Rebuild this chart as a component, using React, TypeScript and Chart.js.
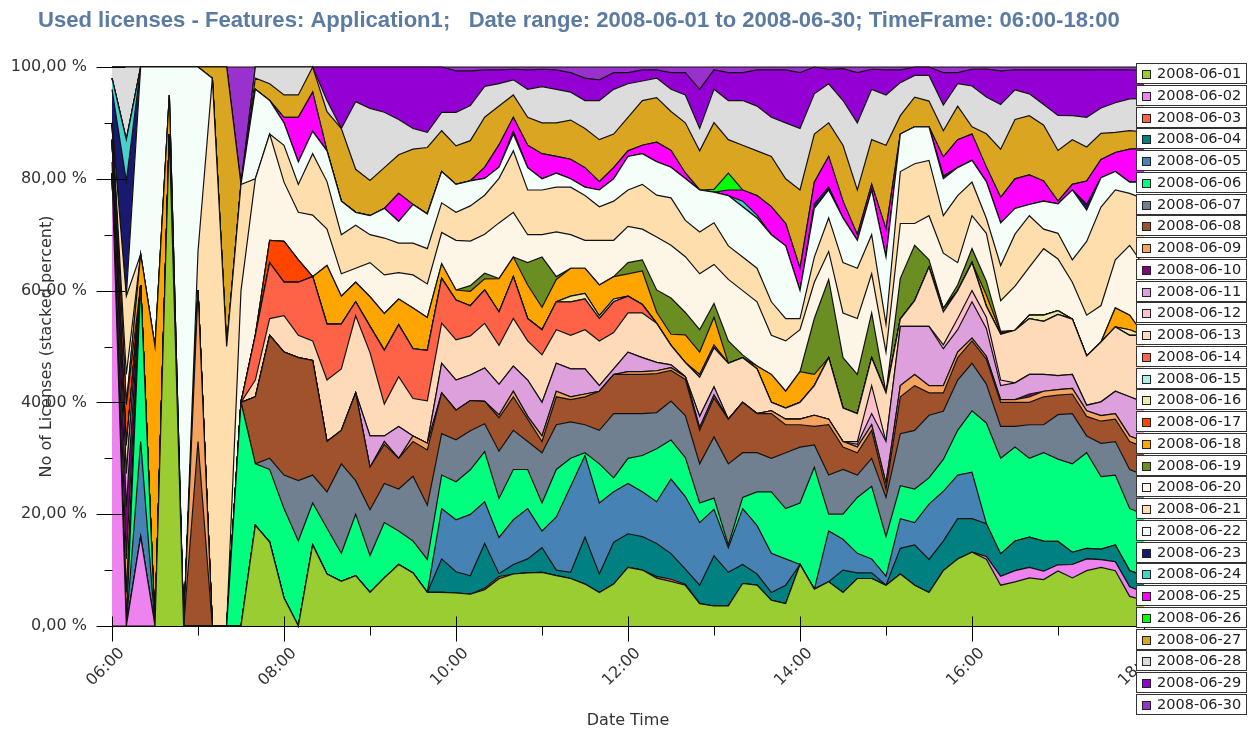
import React, { useEffect, useRef } from 'react';
import { Chart, registerables } from 'chart.js';

Chart.register(...registerables);

const TITLE = 'Used licenses - Features: Application1;   Date range: 2008-06-01 to 2008-06-30; TimeFrame: 06:00-18:00';
const X_TITLE = 'Date Time';
const Y_TITLE = 'No of Licenses (stacked percent)';

const TIMES = [
  '06:00', '06:10', '06:20', '06:30', '06:40', '06:50', '07:00', '07:10', '07:20', '07:30', '07:40', '07:50',
  '08:00', '08:10', '08:20', '08:30', '08:40', '08:50', '09:00', '09:10', '09:20', '09:30', '09:40', '09:50',
  '10:00', '10:10', '10:20', '10:30', '10:40', '10:50', '11:00', '11:10', '11:20', '11:30', '11:40', '11:50',
  '12:00', '12:10', '12:20', '12:30', '12:40', '12:50', '13:00', '13:10', '13:20', '13:30', '13:40', '13:50',
  '14:00', '14:10', '14:20', '14:30', '14:40', '14:50', '15:00', '15:10', '15:20', '15:30', '15:40', '15:50',
  '16:00', '16:10', '16:20', '16:30', '16:40', '16:50', '17:00', '17:10', '17:20', '17:30', '17:40', '17:50',
  '18:00',
];

const SERIES_NAMES = [
  '2008-06-01', '2008-06-02', '2008-06-03', '2008-06-04', '2008-06-05', '2008-06-06',
  '2008-06-07', '2008-06-08', '2008-06-09', '2008-06-10', '2008-06-11', '2008-06-12',
  '2008-06-13', '2008-06-14', '2008-06-15', '2008-06-16', '2008-06-17', '2008-06-18',
  '2008-06-19', '2008-06-20', '2008-06-21', '2008-06-22', '2008-06-23', '2008-06-24',
  '2008-06-25', '2008-06-26', '2008-06-27', '2008-06-28', '2008-06-29', '2008-06-30',
];

const COLORS = [
  '#9ACD32', '#EE82EE', '#FF6347', '#008080', '#4682B4', '#00FF7F',
  '#708090', '#A0522D', '#F4A460', '#800080', '#DDA0DD', '#FFC0CB',
  '#FFDAB9', '#FF6347', '#AFEEEE', '#EEE8AA', '#FF4500', '#FFA500',
  '#6B8E23', '#FDF5E6', '#FFDEAD', '#F5FFFA', '#191970', '#48D1CC',
  '#FF00FF', '#00FF00', '#DAA520', '#DCDCDC', '#9400D3', '#9932CC',
];

// licenses in use per 10-minute slot (06:00 .. 18:00), one array per day
const S01 = [0,0,0,0,88,0,0,0,0,0,18,15, 5,0,14.5,9.3,8,9,6,8.6,11,9.5,6,6, 5.9,5.7,6.5,8.5,9.3,9.5,9.6,9,8.5,7.5,6,7.5, 10.5,10,8.6,8,7.3,4,3.6,3.6,7.6,7.3,4.6,4, 11,6.6,7.9,6,8.5,8.5,7.3,9.3,7.3,6,9.9,12, 13.2,12,7.3,7.9,8.6,8.3,9.9,8.6,9.9,10.6,9.9,5.3, 4.6];
const S02 = [81,0,16,0,0,0,0,0,0,0,0,0, 0,0,0,0,0,0,0,0,0,0,0,0, 0,0,0,0,0,0,0,0,0,0,0,0, 0,0,0,0,0,0,0,0,0,0,0,0, 0,0,0,0,0,0,0,0,0,0,0,0, 0,0.5,1.6,2,1.9,1.5,1.1,2.4,2.1,1.4,1.6,1.7, 1.4];
const S03 = [0,0,0,0,0,0,0,0,0,0,0,0, 0,0,0,0,0,0,0,0,0,0,0,0, 0,0,0.3,0.4,0,0,0,0,0,0,0,0, 0,0,0.3,0.4,0.2,0,0,0,0,0,0,0, 0,0,0,0,0,0,0,0,0,0,0,0, 0,0,0,0,0,0,0,0,0,0,0,0, 0];
const S04 = [0,0,0,0,0,0,0,0,0,0,0,0, 0,0,0,0,0,0,0,0,0,0,0,6, 3.8,3.3,8,0.5,1.7,2.5,4.4,1,1.1,8.4,3.3,7.5, 6,6,5.9,4.6,2.7,3.3,9,6,3.4,2,1.4,3.3, 0,0,0,4,1,1,0,4.6,7.2,5.9,5.3,7.2, 6,5.9,4,5.3,5.4,5.4,4.2,2.2,1.9,1.9,3,2.9, 3];
const S05 = [0,0,17,0,0,0,0,0,0,0,0,0, 0,0,0,0,0,0,0,0,0,0,0,9, 9.3,11,7.5,6.5,8,9,3,9.5,15.4,14.6,12.7,9, 9,8,7.5,13.4,13,11.2,8.4,4.4,10,8.7,7,4.7, 0,0,9.1,5.5,3.5,2.5,1.6,5.3,4,9.9,8.9,7.8, 8.3,0,0,0,0,0,0,0,0,0,0,0, 0];
const S06 = [0,0,28,0,0,0,0,0,0,40,11,13, 16,15.2,7.5,8.2,5,11,6.6,9.9,6,5.7,5.9,6, 6.8,8,9,7,9,7,5,8.5,5,0.5,7,2.5, 4.5,6.5,9.5,7,7,3.5,2,0.5,2,6,11,9, 11,21.8,3,4.5,10,13,7.1,5.9,6,4.7,5.7,8, 11,18.1,17.1,16.8,14.1,15.8,14.8,15.8,17.1,13.1,12.5,11.1, 11];
const S07 = [0,0,0,0,0,0,0,0,0,0,0,2, 6,10.8,5,6.5,16,6,8.2,7,7.5,11.6,9.7,7.4, 7.5,7,5,8.5,7,5,9,8,6.5,5,6,11.5, 8,7.5,6.5,7,7.5,7,11,14.5,8,7,6,10, 10,4,7,8,4,5,7,9.3,10.5,11.2,8.6,9, 8.5,7,5.7,3.7,6,5,8,9,3,6,6,7, 7];
const S08 = [0,6,0,0,0,0,33,0,0,0,12,22, 22,22,20.5,9,6,15.7,7.6,7,5.5,6.2,9.9,7.3, 5.3,5.4,4,6,6,4,2,5,4,5,7,7, 7,7,7,5.5,6.5,6,7,8,9,7,8,5, 4,3.3,9,4,4,5,1.5,6.6,8,4,3.3,4, 4,4.5,4.3,4.3,4,5,3.5,3.5,3.5,4,4,5, 5];
const S09 = [2,6,0,0,0,0,27,0,0,0,0,0, 0,0,0,0,0,0,0,0.5,0,1,1.2,0, 0,0,0,0.5,1,0.5,1,1,0.5,0.5,0,0, 0.5,0.5,0.5,0.5,0.5,0.5,0.5,0,0,0,0.5,1, 1,2,1,1,1,1,1,2,2,1.3,1.3,1, 0.5,0.5,0.5,0.5,1,1,1,1,1,1,1,1, 1];
const S10 = [4,9.3,0,0,0,0,0,0,0,0,0,0, 0,0,0,0,0,0,0,0,0,0,0,0, 0,0,0,0,0,0,0,0,0,0,0,0, 0,0,0,0,0,0,0,0,0,0,0,0, 0,0,0,0,0,0,0,0,0,0,0,0, 0,0,0,0,0.5,0,0,0,0,0,0,0, 0];
const S11 = [0,6,0,0,0,0,0,0,0,0,0,0, 0,0,0,0,0,0,5.6,1,5.7,0,0,5.3, 5.4,4.6,6,5.5,4.5,6.5,6,5,5,4.5,1,1, 3.5,2.5,1.5,0.5,0,2,1.5,0,0,0,0,0, 0,0,0,0,0.5,2,7.5,10.6,8.6,10.6,6.6,4, 6.5,5,2.5,3,3.5,3,2.5,2.5,1,2.5,4,7, 7];
const S12 = [0,0,0,0,0,0,0,0,0,0,0,0, 0,0,0,0,0,0,0,0,0,0,0,0, 0,0,0,0,0,0,0,0,0,0,0,0, 0,0,0,0,0,0,0,0,0,0,0,0, 0,0,0,0,0.5,5,0,0,0,0,0.7,2, 2,2,1,0,0,0,0,0,0,0,0,0, 0];
const S13 = [0,5,0,0,0,0,0,0,0,0,3,3, 6.5,4,3.5,11,11,13.8,14.9,5.7,8.9,6.7,7.6,7.2, 7.2,7,8,7,8.5,7,8.5,6,6,7,8,6.5, 7,8,7,3.5,2.5,7,7,10,8,8,1.5,2, 3,5.3,11,6,5,5,8.7,1.3,4.6,10.6,5.9,5, 5,2,8.2,9.4,10,9.5,11,9.9,8.8,10.8,11.5,11, 12];
const S14 = [0,0,0,0,0,0,0,0,0,0,8,10, 6,9.5,11.5,10,8,2.5,4.7,9.6,9.3,8.9,9,8, 7.1,5.4,6,6,7.5,4,4.5,5,6,5.5,4,5.5, 3,1.5,0,0,0,0,0,0,0,0,0,0, 0,0,0,0,0,0,0,0,0,0,0,0, 0,0,0,0,0,0,0,0,0,0,0,0, 0];
const S15 = [0,0,0,0,0,0,0,0,0,0,0,0, 0,0,0,0,0,0,0,0,0,0,0,0, 0,0,0,0,0,0,0,0,0,0,0,0, 0,0,0,0,0,0,0,0,0,0,0,0, 0,0,0,0,0,0,0,0,0,0,0,0, 0,0,0,0,0,0,0,0,0,0,0,0, 0];
const S16 = [0,0,0,0,0,0,0,0,0,0,0,0, 0,0,0,0,0,0,0,0,0,0,0,0, 0,0,0,0,0,0,0,0,1,1,0.5,0.5, 0,0,0,0,0,0.5,0.5,0,0,0,0,0, 0,0,0,0,0,0,0,0,0,0,0.6,0, 0,0,0,0,0.6,1.1,0.7,0,0,0,0,1, 0];
const S17 = [3,7.3,0,0,0,0,0,0,0,0,0,4, 7.3,4,0,0,0,0,0,0,0,0,0,0, 0,0,0,0,0,0,0,0,0,0,0,0, 0,0,0,0,0,0,0,0,0,0,0,0, 0,0,0,0,0,0,0,0,0,0,0,0, 0,0,0,0,0,0,0,0,0,0,0,0, 0];
const S18 = [0,0,5.5,50,7,0,0,0,0,0,0,0, 0,0,0,10.5,5,3.5,5.3,6.6,4.6,7.3,5.9,2.6, 1.8,2.6,2,6,3.5,6,4,4,5,4.5,5.5,4, 4,6,2,2,5,4,5,0,0,0.5,5,3, 5.5,2,0,0,0,0,0,0,0,0,0,0, 0,2,0.3,0,0,0,0,0,0,0,3.4,2.6, 0];
const S19 = [0,0,0,0,0,0,0,0,0,0,0,0, 0,0,0,0,0,0,0,0,0,0,0,0, 0,1,1,0,0,4,9,0.5,0,0,0,0, 2,2,4,6.5,4,4,2.5,4,0.5,0,0,0, 0,10,14,9,7,8,0,7.3,9.9,1.3,0,1, 2.5,2.5,0.2,0,0,0,0,0,0,0,0,0, 0];
const S20 = [0,5.4,0,0,0,0,0,0,0,20,28,19, 10.6,8.5,11,6.5,4,2.5,6.1,6.9,4.7,5.9,6,5.6, 8.9,8,7,10,8,5,4,8,6,5,8,6.5, 6.5,5.5,9.5,9.5,10,10,7,11,11.5,11.5,7,9, 7.5,6.5,5,8,10,7,7.3,9.8,3.9,7.9,9.9,4, 5.9,8.6,5.5,7.9,8.6,11.9,9.3,6.6,7.3,6.6,8.6,12.5, 12.4];
const S21 = [0,14,0,0,0,0,7,98,50,19,0,0, 6.6,5,11,8.5,7,7.7,5,6.6,5.3,5.7,6.3,5.3, 5,6.3,7,8,11,8,8,8,8.5,8,6,7, 6.5,8,7.5,8.5,6.5,7.5,7.5,6,6,6,6,4, 2,4.5,6,9,9,7,5,9.3,10.7,9.9,6.7,12, 6,2.7,6.3,9.3,9.2,3.5,4.6,4,13.2,17.8,12.5,9.3, 12];
const S22 = [0,0,33.5,50,5,100,33,0,0,0,16,6, 4,4,4,5.5,6,2.3,3.4,5.3,3.9,6.9,6.2,5.6, 5,4.5,3,2,3,4,2,2.5,1.5,1.5,3,4, 6,5.5,6,5.5,7.5,7.5,5.5,9,9,9,12,13, 5,8.7,5,8,5,8,12,6.7,6.6,6,6.6,5, 3.9,6.6,7.6,4.6,2,5,5.3,12.5,5.6,5.3,3.3,2, 3];
const S23 = [6,20.6,0,0,0,0,0,0,0,0,0,0, 0,0,0,0,0,0,0,0,0,0,0,0, 0,0,0,0,0.5,0,0,0,0,0,0,0, 0,0,0,0,0,0,0,0,0,0,0,0, 0,0.8,0.5,0,0,0,0,0,0,0,0.5,0, 0,0,0,0,0,0,0,0,1,0,0,0, 0];
const S24 = [2,7.4,0,0,0,0,0,0,0,0,0,0, 0,0,0,0,0,0,0,0,0,0,0,0, 0,0,0,0,0,0,0,0,0,0,0,0, 0,0,0,0,0,0,0,0,1,0.5,0,0, 0,0,0,0,0,0,0,0,0,0,0,0, 0,0,0,0,0,0,0,0,0,0,0,0, 0];
const S25 = [0,0,0,0,0,0,0,0,0,0,0,0, 1,8,7,0,0,0,0,0,5,0,0,0, 0,0,2,4,2.5,4,4.5,3,3.5,3.5,1.5,2, 1,1.5,3.5,3,1,0,0,1,2,3.5,5,4, 4,3.9,5.5,3,1,1,5,0,0,0,3.4,5, 4.7,2.6,4.6,5.3,5.3,3.6,0.5,1,4.2,3.3,3.4,5.9, 6];
const S26 = [0,0,0,0,0,0,0,0,0,0,0,0, 0,0,0,0,0,0,0,0,0,0,0,0, 0,0,0,0,0,0,0,0,0,0,0,0, 0,0,0,0,0,0,0.5,3,0,0,0,0, 0,0,0,0,0,0,0,0,0,0,0,0, 0,0,0,0,0,0,0,0,0,0,0,0, 0];
const S27 = [0,0,0,0,0,0,0,2,50,0,2,3, 4,4,4.5,7,13,7.7,6.3,7.3,6.9,9.9,11.9,7.3, 6.9,7.2,9,7,4,5,5.5,6,7,7,7.5,6, 6,8,8,7,9,7,12,6,8,8,9,8, 14,8.6,6,10,8,8,15,3.3,5.3,4.6,4.7,6, 1.3,6,8.6,10.6,10.6,10,9.1,8,6.1,4.7,3.6,3.3, 3];
const S28 = [2,13,0,0,0,0,0,0,0,0,2,3, 5,5,0,2,0,12.1,12.9,9.9,6.3,3.7,2.7,3.3, 6,6.3,5.5,4,2.7,5,6.5,6,5,5,7,8, 6,3.5,3.5,4,5,4,6,7,8,8,7,10, 11,7.2,7,8,12,9,9,5.9,3.9,4.6,4.6,4, 7.3,6.6,8,5.3,3.9,3.7,6.3,4.3,5.3,4.6,5.3,5.7, 6];
const S29 = [0,0,0,0,0,0,0,0,0,0,0,0, 0,0,0,6,11,6.2,7.4,8.1,9.4,11,11.7,8.1, 7.4,6.2,3,2.5,1.9,3.5,3.1,3.5,3.5,4,3.7,3, 2,2,1.5,3,4,7,3.5,5,5,6.5,8.5,9.5, 10,4.8,2.6,5.7,9,3.6,4.5,2.3,1.5,1.5,5.8,2, 3,5,6,3.6,4.3,6.2,8.2,8.2,8.5,6.9,5.9,5.2, 5];
const S30 = [0,0,0,0,0,0,0,0,0,21,0,0, 0,0,0,0,0,0,0,0,0,0,0,0, 0.7,0.7,0.5,0.5,0.4,0.5,0.4,0.5,1,2,2.3,1, 1,0.5,0.5,1,1,4,0.5,1,1,0.5,0.5,0.5, 1,0,0.4,0.3,1,0.4,0.5,0.5,0,0,1,1, 0.4,0.4,0.7,0.5,0.5,0.5,0.5,0.5,0.5,0.5,0.5,0.5, 0.6];

const SERIES = [
  S01, S02, S03, S04, S05, S06, S07, S08, S09, S10,
  S11, S12, S13, S14, S15, S16, S17, S18, S19, S20,
  S21, S22, S23, S24, S25, S26, S27, S28, S29, S30,
];

const Y_TICK_VALUES = [0, 10, 20, 30, 40, 50, 60, 70, 80, 90, 100];

const FONT = '"DejaVu Sans", "Liberation Sans", Arial, sans-serif';

function toPercent(series: number[][]): number[][] {
  const n = series[0].length;
  const totals: number[] = [];
  for (let i = 0; i < n; i++) {
    let t = 0;
    for (const s of series) t += s[i];
    totals.push(t);
  }
  return series.map((s) => s.map((v, i) => (totals[i] > 0 ? (v / totals[i]) * 100 : 0)));
}

const decorPlugin = {
  id: 'decor',
  afterDraw(chart: any) {
    const { ctx, chartArea, scales } = chart;
    const xs = scales.x;
    const ys = scales.y;
    ctx.save();
    // tick marks
    ctx.strokeStyle = '#000';
    ctx.lineWidth = 1;
    ctx.beginPath();
    const L = Math.round(chartArea.left) + 0.5;
    const B = Math.round(chartArea.bottom) + 0.5;
    for (const v of Y_TICK_VALUES) {
      const y = Math.round(ys.getPixelForValue(v)) + 0.5;
      if (v % 20 === 0) {
        ctx.moveTo(L - 16, y);
        ctx.lineTo(L + 13, y);
      } else {
        ctx.moveTo(L - 8, y);
        ctx.lineTo(L, y);
      }
    }
    for (let i = 0; i < TIMES.length; i += 6) {
      const x = Math.round(xs.getPixelForValue(i)) + 0.5;
      if (i % 12 === 0) {
        ctx.moveTo(x, B - 10);
        ctx.lineTo(x, B + 15);
      } else {
        ctx.moveTo(x, B);
        ctx.lineTo(x, B + 9);
      }
    }
    ctx.stroke();

    // title
    ctx.font = `bold 20px "Liberation Sans", Arial, sans-serif`;
    const w = ctx.measureText(TITLE).width;
    const size = (20 * 1082) / w;
    ctx.font = `bold ${size.toFixed(2)}px "Liberation Sans", Arial, sans-serif`;
    ctx.fillStyle = '#5B7BA5';
    ctx.textAlign = 'left';
    ctx.textBaseline = 'middle';
    ctx.fillText(TITLE, 38, 21);

    // legend (drawn over the right end of the plot, like the original)
    const lx = 1136.5;
    const lw = 110;
    const top0 = 63;
    const pitch = 21.75;
    ctx.font = `14.5px ${FONT}`;
    chart.data.datasets.forEach((ds: any, i: number) => {
      const t = Math.round(top0 + i * pitch) + 0.5;
      ctx.fillStyle = '#fff';
      ctx.fillRect(lx, t, lw, 20);
      ctx.strokeStyle = '#333';
      ctx.lineWidth = 1;
      ctx.strokeRect(lx, t, lw, 20);
      ctx.fillStyle = ds.backgroundColor;
      ctx.fillRect(lx + 6, t + 7, 8, 8);
      ctx.strokeStyle = '#222';
      ctx.strokeRect(lx + 6, t + 7, 8, 8);
      ctx.fillStyle = '#222';
      ctx.textAlign = 'left';
      ctx.textBaseline = 'middle';
      ctx.fillText(ds.label, lx + 20.5, t + 10.5);
    });
    ctx.restore();
  },
};

export default function App() {
  const ref = useRef<HTMLCanvasElement | null>(null);

  useEffect(() => {
    if (!ref.current) return;
    const pct = toPercent(SERIES);
    const datasets = SERIES_NAMES.map((name, i) => ({
      label: name,
      data: pct[i],
      backgroundColor: COLORS[i],
      borderColor: '#111',
      borderWidth: 1.2,
      fill: i === 0 ? 'origin' : '-1',
      pointRadius: 0,
      tension: 0,
      clip: 4,
    }));
    const chart = new Chart(ref.current, {
      type: 'line',
      data: { labels: TIMES, datasets },
      options: {
        responsive: false,
        animation: false,
        devicePixelRatio: 1,
        events: [],
        layout: { padding: { left: 0, right: 104, top: 67, bottom: 0 } },
        plugins: {
          legend: { display: false },
          title: { display: false },
          tooltip: { enabled: false },
        },
        scales: {
          x: {
            type: 'category',
            offset: false,
            grid: { display: false, drawTicks: false },
            border: { display: true, color: '#000', width: 1 },
            ticks: {
              autoSkip: false,
              minRotation: 45,
              maxRotation: 45,
              padding: 18,
              labelOffset: 10,
              color: '#333',
              font: { family: FONT, size: 16 },
              callback: (_v: any, idx: number) => (idx % 12 === 0 ? TIMES[idx] : ''),
            },
            title: {
              display: true,
              text: X_TITLE,
              color: '#333',
              font: { family: FONT, size: 16 },
              padding: { top: 0, bottom: 1 },
            },
            afterFit: (s: any) => { s.height = 105; },
          },
          y: {
            stacked: true,
            min: 0,
            max: 100,
            grid: { display: false, drawTicks: false },
            border: { display: true, color: '#000', width: 1 },
            ticks: {
              stepSize: 20,
              padding: 25,
              color: '#333',
              font: { family: FONT, size: 16 },
              callback: (v: any) => `${Number(v).toFixed(2).replace('.', ',')} %`,
            },
            title: {
              display: true,
              text: Y_TITLE,
              color: '#333',
              font: { family: FONT, size: 16 },
              padding: { top: 37, bottom: 0 },
            },
            afterFit: (s: any) => { s.width = 112; },
          },
        },
      },
      plugins: [decorPlugin],
    });
    return () => chart.destroy();
  }, []);

  return (
    <div style={{ position: 'absolute', left: 0, top: 0, width: 1248, height: 731, background: '#fff' }}>
      <canvas ref={ref} width={1248} height={731} style={{ width: 1248, height: 731, display: 'block' }} />
    </div>
  );
}
